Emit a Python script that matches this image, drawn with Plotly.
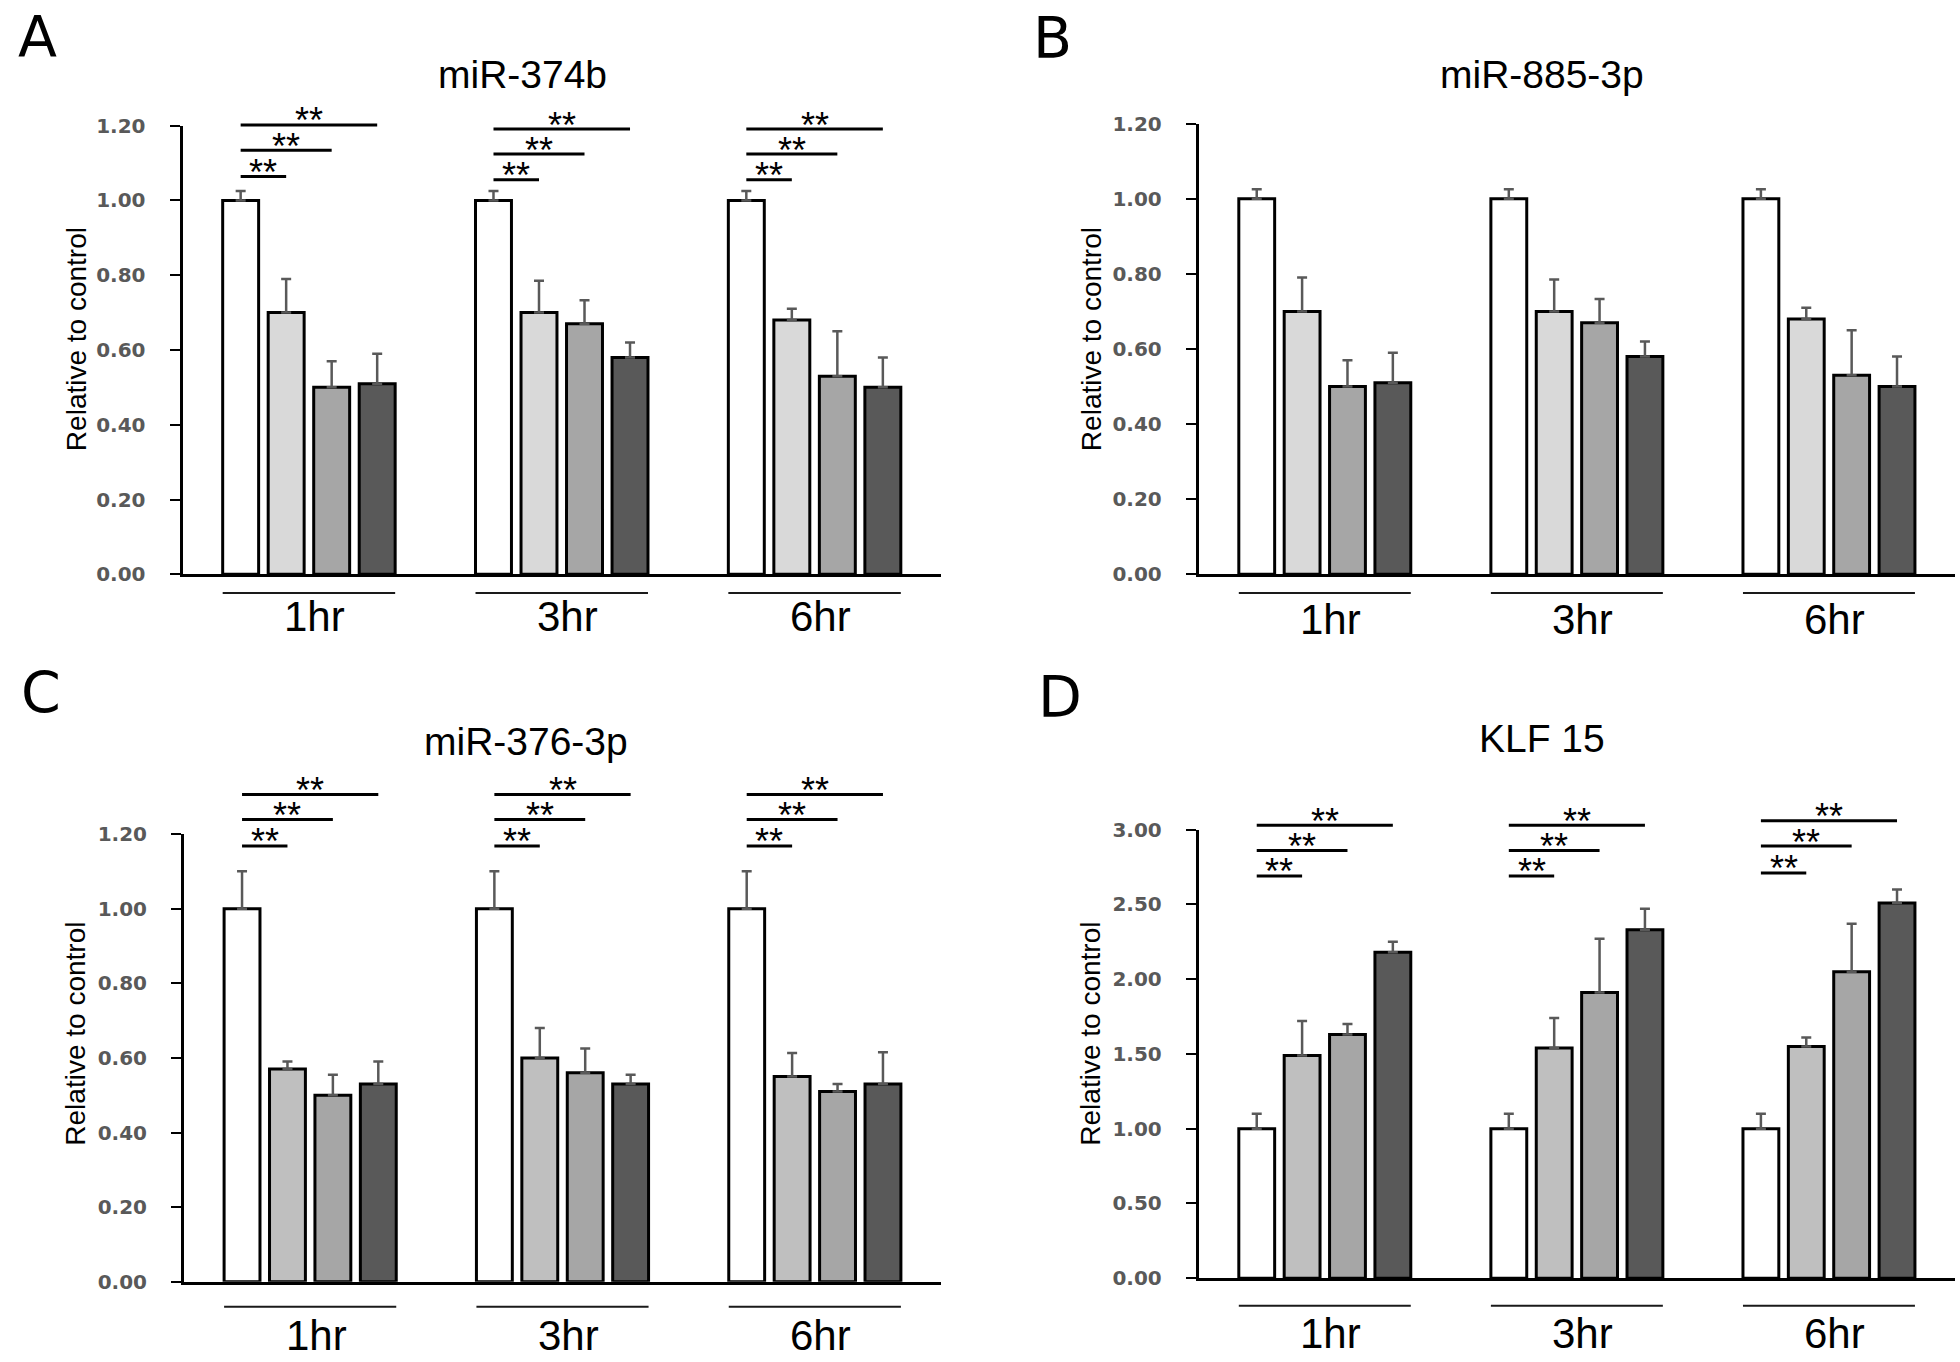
import plotly.graph_objects as go

# ---------------- data ----------------
groups = ["1hr", "3hr", "6hr"]
series_colors_ab = ["#ffffff", "#d9d9d9", "#a6a6a6", "#595959"]
series_colors_cd = ["#ffffff", "#bfbfbf", "#a6a6a6", "#595959"]

# values[series][group]
mir374b_values = [[1.00, 1.00, 1.00], [0.70, 0.70, 0.68], [0.50, 0.67, 0.53], [0.51, 0.58, 0.50]]
mir374b_errors = [[0.025, 0.025, 0.025], [0.09, 0.085, 0.03], [0.07, 0.063, 0.12], [0.08, 0.04, 0.08]]

mir885_values = [[1.00, 1.00, 1.00], [0.70, 0.70, 0.68], [0.50, 0.67, 0.53], [0.51, 0.58, 0.50]]
mir885_errors = [[0.025, 0.025, 0.025], [0.09, 0.085, 0.03], [0.07, 0.063, 0.12], [0.08, 0.04, 0.08]]

mir376_values = [[1.00, 1.00, 1.00], [0.57, 0.60, 0.55], [0.50, 0.56, 0.51], [0.53, 0.53, 0.53]]
mir376_errors = [[0.10, 0.10, 0.10], [0.02, 0.08, 0.063], [0.055, 0.065, 0.02], [0.06, 0.025, 0.085]]

klf15_values = [[1.00, 1.00, 1.00], [1.49, 1.54, 1.55], [1.63, 1.91, 2.05], [2.18, 2.33, 2.51]]
klf15_errors = [[0.10, 0.10, 0.10], [0.23, 0.20, 0.06], [0.07, 0.36, 0.32], [0.07, 0.14, 0.09]]

# significance bar heights (data units) [group][comparison]
sig_a = [[1.064, 1.134, 1.202], [1.055, 1.124, 1.191], [1.055, 1.124, 1.191]]
sig_c = [[1.168, 1.239, 1.306], [1.168, 1.239, 1.306], [1.168, 1.239, 1.306]]
sig_d = [[2.69, 2.86, 3.03], [2.69, 2.86, 3.03], [2.71, 2.89, 3.06]]

yticks_mir = [0.0, 0.2, 0.4, 0.6, 0.8, 1.0, 1.2]
yticks_klf = [0.0, 0.5, 1.0, 1.5, 2.0, 2.5, 3.0]

# ---------------- layout constants ----------------
W, H = 1960, 1362
BARGAP = 0.28
BARGROUPGAP = 0.21
SLOT = (1 - BARGAP) / 4
FONT = "Liberation Sans, Arial, sans-serif"

panels = [
    dict(letter="A", title="miR-374b", vals=mir374b_values, errs=mir374b_errors, colors=series_colors_ab,
         ticks=yticks_mir, sig=sig_a, xpx=(182.5, 941), ypx=(115.7, 572.4),
         title_xy=(522, 64), letter_xy=(37, 25), ytitle_xy=(76, 333), under=19, lab=43),
    dict(letter="B", title="miR-885-3p", vals=mir885_values, errs=mir885_errors, colors=series_colors_ab,
         ticks=yticks_mir, sig=None, xpx=(1198.75, 1955), ypx=(113.6, 572.4),
         title_xy=(1542, 64), letter_xy=(1052, 26), ytitle_xy=(1091, 333), under=19, lab=46),
    dict(letter="C", title="miR-376-3p", vals=mir376_values, errs=mir376_errors, colors=series_colors_cd,
         ticks=yticks_mir, sig=sig_c, xpx=(184, 941), ypx=(836.8, 1292.5),
         title_xy=(526, 743), letter_xy=(41, 693), ytitle_xy=(76, 1040), under=25.5, lab=55),
    dict(letter="D", title="KLF 15", vals=klf15_values, errs=klf15_errors, colors=series_colors_cd,
         ticks=yticks_klf, sig=sig_d, xpx=(1198.75, 1955), ypx=(832.3, 1288.9),
         title_xy=(1542, 740), letter_xy=(1060, 697), ytitle_xy=(1091, 1040), under=28, lab=56),
]

fig = go.Figure()
shapes = []
annotations = []
layout_axes = {}

for p_i, p in enumerate(panels):
    n = "" if p_i == 0 else str(p_i + 1)
    xref, yref = "x" + n, "y" + n
    ymax = p["ticks"][-1]
    gx = list(range(len(groups)))
    for s_i in range(4):
        fig.add_trace(go.Bar(
            x=gx, y=p["vals"][s_i], xaxis=xref, yaxis=yref,
            marker=dict(color=p["colors"][s_i], line=dict(color="#000000", width=3)),
            error_y=dict(type="data", array=p["errs"][s_i], arrayminus=[0] * len(groups),
                         symmetric=False, color="#595959", thickness=2.5, width=5),
            showlegend=False, hoverinfo="skip"))

    x0p, x1p = p["xpx"]
    ytop, ybot = p["ypx"]
    plot_h = ybot - ytop
    layout_axes["xaxis" + n] = dict(
        domain=[x0p / W, x1p / W], anchor=yref, range=[-0.5, len(groups) - 0.5],
        showline=True, linecolor="#000000", linewidth=3, ticks="", showticklabels=False,
        showgrid=False, zeroline=False, fixedrange=True)
    layout_axes["yaxis" + n] = dict(
        domain=[1 - ybot / H, 1 - ytop / H], anchor=xref, range=[0, ymax],
        tickvals=p["ticks"], ticktext=["%.2f" % t for t in p["ticks"]],
        tickfont=dict(family="DejaVu Sans", size=20, color="#595959", weight="bold"),
        ticks="outside", ticklen=10, tickwidth=2, tickcolor="#000000", ticklabelstandoff=20,
        showline=True, linecolor="#000000", linewidth=3,
        showgrid=False, zeroline=False, fixedrange=True)

    ydom = yref + " domain"
    # group underlines and labels
    for g in gx:
        half = 2 * SLOT - SLOT * BARGROUPGAP / 2
        shapes.append(dict(type="line", xref=xref, yref=ydom, x0=g - half, x1=g + half,
                           y0=-p["under"] / plot_h, y1=-p["under"] / plot_h,
                           line=dict(color="#1a1a1a", width=2)))
        annotations.append(dict(text=groups[g], xref=xref, yref=ydom, x=g, y=-p["lab"] / plot_h,
                                xanchor="center", yanchor="middle", xshift=6, showarrow=False,
                                font=dict(family=FONT, size=42, color="#000000")))
    # significance bars
    if p["sig"] is not None:
        for g in gx:
            xs = g + (0 - 1.5) * SLOT
            for k in range(1, 4):
                xe = g + (k - 1.5) * SLOT
                yv = p["sig"][g][k - 1] / ymax
                shapes.append(dict(type="line", xref=xref, yref=ydom, x0=xs, x1=xe, y0=yv, y1=yv,
                                   line=dict(color="#000000", width=3)))
                annotations.append(dict(text="**", xref=xref, yref=ydom, x=(xs + xe) / 2, y=yv,
                                        xanchor="center", yanchor="middle", yshift=4, showarrow=False,
                                        font=dict(family=FONT, size=36, color="#000000")))
    # titles, letters, y titles
    tx, ty = p["title_xy"]
    annotations.append(dict(text=p["title"], xref="paper", yref="paper", x=tx / W, y=1 - ty / H,
                            xanchor="center", yanchor="middle", showarrow=False,
                            font=dict(family=FONT, size=39, color="#000000")))
    lx, ly = p["letter_xy"]
    annotations.append(dict(text=p["letter"], xref="paper", yref="paper", x=lx / W, y=1 - ly / H,
                            xanchor="center", yanchor="middle", showarrow=False,
                            font=dict(family="DejaVu Sans", size=57, color="#000000")))
    yx, yy = p["ytitle_xy"]
    annotations.append(dict(text="Relative to control", xref="paper", yref="paper", x=yx / W, y=1 - yy / H,
                            xanchor="center", yanchor="middle", textangle=-90, showarrow=False,
                            font=dict(family=FONT, size=28, color="#000000")))

fig.update_layout(
    width=W, height=H, margin=dict(l=0, r=0, t=0, b=0),
    paper_bgcolor="#ffffff", plot_bgcolor="#ffffff",
    barmode="group", bargap=BARGAP, bargroupgap=BARGROUPGAP,
    showlegend=False, shapes=shapes, annotations=annotations,
    **layout_axes)

fig.write_html("out.html", config={"displayModeBar": False},
               post_script="document.body.style.margin='0';document.body.style.overflow='hidden';")
